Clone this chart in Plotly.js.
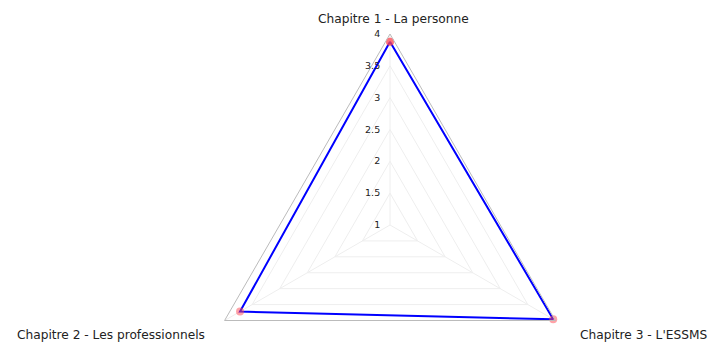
<!DOCTYPE html>
<html>
<head>
<meta charset="utf-8">
<script src="https://cdn.plot.ly/plotly-3.0.1.min.js"></script>
<style>
html,body{margin:0;padding:0;overflow:hidden;background:#fff;width:709px;height:342px;}
#chart{width:709px;height:426px;}
</style>
</head>
<body>
<div id="chart"></div>
<script>
const categories = ["Chapitre 1 - La personne", "Chapitre 2 - Les professionnels", "Chapitre 3 - L'ESSMS"];
const scores = [3.88, 3.72, 3.96];
const radialTicks = [1, 1.5, 2, 2.5, 3, 3.5, 4];
const radialTickText = ["1", "1.5", "2", "2.5", "3", "3.5", "4"];

const theta = categories.concat([categories[0]]);
const r = scores.concat([scores[0]]);

const trace = {
  type: 'scatterpolar',
  r: r,
  theta: theta,
  mode: 'lines+markers',
  line: {color: '#0000ff', width: 2},
  marker: {color: 'rgba(255,70,80,0.5)', size: 8},
  hoverinfo: 'none',
  showlegend: false
};

// Category label placement (paper coordinates), one per category
const labelPos = [
  {x: 393/709, y: (416 - 18.5)/382, xanchor: 'center'},
  {x: 207/709, y: (416 - 334.5)/382, xanchor: 'right'},
  {x: 578/709, y: (416 - 334.5)/382, xanchor: 'left'}
];
const annotations = categories.map((c, i) => ({
  text: c,
  xref: 'paper', yref: 'paper',
  x: labelPos[i].x, y: labelPos[i].y,
  xanchor: labelPos[i].xanchor, yanchor: 'middle',
  showarrow: false,
  font: {family: 'DejaVu Sans, sans-serif', size: 12.2, color: '#222'}
}));

const layout = {
  width: 709,
  height: 426,
  margin: {l: 0, r: 0, t: 34, b: 10},
  paper_bgcolor: '#ffffff',
  font: {family: 'DejaVu Sans, sans-serif', size: 12, color: '#222'},
  annotations: annotations,
  polar: {
    domain: {x: [90/709, 690/709], y: [0, 1]},
    gridshape: 'linear',
    bgcolor: 'rgba(0,0,0,0)',
    radialaxis: {
      range: [1, 4],
      tickvals: radialTicks,
      ticktext: radialTickText,
      angle: 90,
      side: 'counterclockwise',
      tickangle: 90,
      showline: false,
      ticks: 'outside',
      ticklen: 6,
      tickcolor: 'rgba(0,0,0,0)',
      gridcolor: '#eeeeee',
      gridwidth: 1,
      tickfont: {family: 'DejaVu Sans, sans-serif', size: 9.5, color: '#222'}
    },
    angularaxis: {
      type: 'category',
      rotation: 90,
      direction: 'counterclockwise',
      showline: true,
      linecolor: '#bbbbbb',
      linewidth: 1,
      gridcolor: '#eeeeee',
      ticks: '',
      showticklabels: false
    }
  }
};

Plotly.newPlot('chart', [trace], layout, {displayModeBar: false, staticPlot: true});
</script>
</body>
</html>
